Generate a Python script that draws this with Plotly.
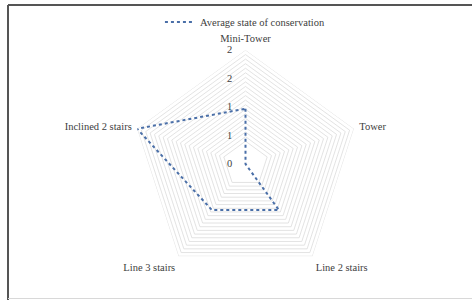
import plotly.graph_objects as go

categories = ["Mini-Tower", "Tower", "Line 2 stairs", "Line 3 stairs", "Inclined 2 stairs"]
avg_state = [0.97, 0.0, 1.0, 1.0, 2.0]
series_name = "Average state of conservation"
tick_values = [0, 0.5, 1, 1.5, 2]
tick_labels = ["0", "1", "1", "2", "2"]
ring_values = [round(0.4 + 0.08 * i, 2) for i in range(21)]

W, H = 472, 300
cx, cy, R = 245.5, 164, 114
FONT = "Liberation Serif"
TXT = "#404040"

fig = go.Figure()

cat_closed = categories + [categories[0]]
for rv in ring_values:
    fig.add_trace(go.Scatterpolar(
        r=[rv] * len(cat_closed), theta=cat_closed, mode="lines",
        line=dict(color="#dcdcdc", width=0.8), hoverinfo="skip", showlegend=False))

fig.add_trace(go.Scatterpolar(
    r=avg_state + [avg_state[0]], theta=cat_closed, mode="lines",
    name=series_name,
    line=dict(color="#4a6fa8", width=2, dash="dot")))

fig.update_layout(
    width=W, height=H,
    margin=dict(l=0, r=0, t=0, b=0),
    paper_bgcolor="white", plot_bgcolor="white",
    font=dict(family=FONT, size=10.5, color=TXT),
    showlegend=True,
    legend=dict(orientation="h", x=0.52, xanchor="center", y=0.975, yanchor="top",
                font=dict(family=FONT, size=10.5, color=TXT), bgcolor="rgba(0,0,0,0)"),
    polar=dict(
        domain=dict(x=[(cx - R) / W, (cx + R) / W], y=[(H - cy - R) / H, (H - cy + R) / H]),
        bgcolor="white",
        gridshape="linear",
        angularaxis=dict(direction="clockwise", rotation=90, showgrid=False,
                         showline=False, ticks="outside", ticklen=3, tickcolor="rgba(0,0,0,0)",
                         tickfont=dict(family=FONT, size=10.5, color=TXT)),
        radialaxis=dict(range=[0, 2], angle=90, tickangle=90, side="counterclockwise",
                        tickvals=tick_values, ticktext=tick_labels, showgrid=False,
                        showline=False, ticks="outside", ticklen=9, tickcolor="rgba(0,0,0,0)",
                        tickfont=dict(family=FONT, size=10.5, color=TXT)),
    ),
    shapes=[
        dict(type="line", xref="paper", yref="paper", x0=8 / W, x1=1, y0=1 - 5 / H, y1=1 - 5 / H,
             line=dict(color="#555555", width=2)),
        dict(type="line", xref="paper", yref="paper", x0=8 / W, x1=8 / W, y0=0, y1=1 - 5 / H,
             line=dict(color="#555555", width=2)),
        dict(type="line", xref="paper", yref="paper", x0=8 / W, x1=1, y0=1.5 / H, y1=1.5 / H,
             line=dict(color="#d8d8d8", width=1)),
    ],
)

fig.write_html("out.html", config={"displayModeBar": False},
               post_script="document.body.style.margin='0px';")
